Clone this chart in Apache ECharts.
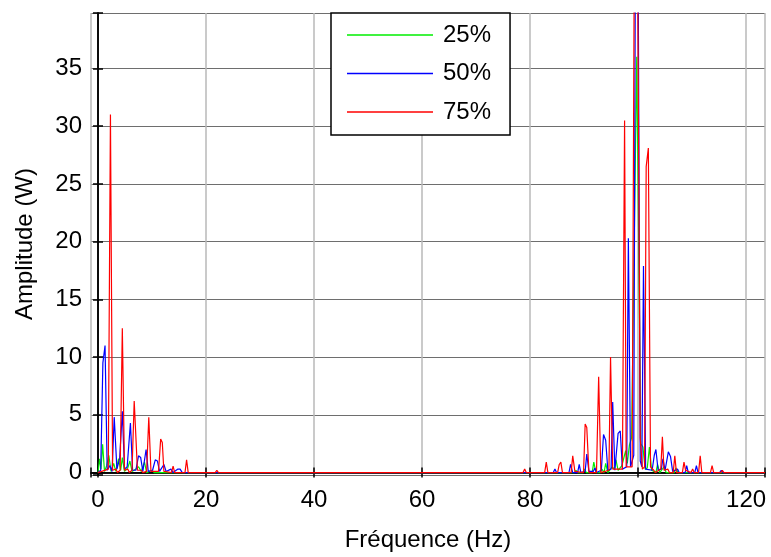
<!DOCTYPE html>
<html>
<head>
<meta charset="utf-8">
<script src="https://cdn.jsdelivr.net/npm/echarts@6/dist/echarts.min.js"></script>
<style>
html,body{margin:0;padding:0;background:#fff;}
#chart{width:771px;height:557px;}
</style>
</head>
<body>
<div id="chart"></div>
<script>
// Legend names
var seriesNames = ['25%', '50%', '75%'];
// x tick labels (Hz) and y tick labels (W)
var xTicks = [0, 20, 40, 60, 80, 100, 120];
var yTicks = [0, 5, 10, 15, 20, 25, 30, 35];

// [frequency (Hz), amplitude (W)]
var s25 = [[0,0],[0.3,1.2],[0.55,0.3],[0.85,2.45],[1.2,0.1],[1.6,0.6],[2.0,1.5],[2.4,0.1],[2.9,0.8],[3.3,0.1],[3.8,1.2],[4.2,0.2],[4.5,1.3],[4.9,0.1],[5.5,0.4],[5.9,1.0],[6.3,0.1],[7.0,0.3],[7.5,0.5],[8.0,0.1],[8.6,0.9],[9.0,0],[10.0,0.2],[10.4,0],
[88.2,0],[88.5,0.2],[88.8,0],[89.8,0],[90.1,0.3],[90.4,0],[91.5,0],[91.8,0.9],[92.2,0],[93.0,0],[93.3,0.3],[93.7,0],[94.0,0.8],[94.4,0],[95.2,0.5],[95.6,0.3],[95.9,1.1],[96.3,0.2],[97.0,0.6],[97.7,1.9],[98.0,0.8],[98.4,2.4],[98.8,3.0],[99.75,36],[100.5,2.5],[100.9,2.2],[101.3,0.3],[101.7,0.4],[102.1,2.2],[102.5,0.2],[103.3,0],[103.6,0.7],[104.0,0],[104.8,0.5],[105.2,0],[106.7,0],[107.0,0.4],[107.4,0],[123.5,0]];

var s50 = [[0,0],[0.5,0.2],[0.9,9.5],[1.3,11.0],[1.7,0.2],[2.2,0.6],[2.6,0.1],[3.0,4.8],[3.5,0.3],[4.0,1.2],[4.5,5.3],[4.9,0.3],[5.4,0.5],[6.0,4.3],[6.4,0.2],[7.0,0.2],[7.5,1.45],[7.9,1.3],[8.3,0.1],[8.9,2.0],[9.3,0.1],[10.1,0.2],[10.6,1.1],[11.0,1.0],[11.4,0.1],[12.2,0.7],[12.6,0.1],[13.5,0.3],[13.9,0],[14.8,0.3],[15.2,0.3],[15.6,0],
[84.3,0],[84.6,0.3],[84.9,0],[87.2,0],[87.5,0.7],[87.9,0],[88.8,0],[89.1,0.7],[89.4,0],[90.2,0.1],[90.5,1.6],[90.9,0.1],[91.7,0.1],[92.0,0.4],[92.3,0],[93.2,0.2],[93.6,3.3],[94.0,2.8],[94.4,0.2],[95.0,0.3],[95.3,6.1],[95.7,0.2],[96.3,3.4],[96.7,3.6],[97.1,0.3],[97.9,0.5],[98.2,20.3],[98.6,0.5],[99.2,1.5],[99.5,45],[100.0,45],[100.4,1.0],[100.7,0.5],[101.0,17.9],[101.4,0.3],[102.6,0.2],[103.0,1.5],[103.3,2.0],[103.7,0.2],[104.3,0.3],[104.6,1.2],[105.0,0.2],[105.6,1.8],[106.0,1.4],[106.4,0.1],[107.3,0.3],[107.6,0],[108.7,0],[109.0,0.6],[109.3,0],[110.5,0],[110.8,0.6],[111.1,0],[115.1,0],[115.4,0.2],[115.7,0],[123.5,0]];

var s75 = [[0,0],[1.9,0.3],[2.3,31.0],[2.7,0.2],[3.3,0.3],[3.6,0],[4.1,0.2],[4.5,12.5],[4.9,0.2],[5.5,0.3],[5.8,0],[6.3,0.2],[6.7,6.2],[7.0,6.3],[7.3,0.2],[8.0,0.2],[8.3,0],[9.0,0.1],[9.4,4.8],[9.8,0.1],[11.2,0.1],[11.6,2.9],[11.9,2.6],[12.2,0.1],[13.6,0],[13.9,0.55],[14.2,0],[16.1,0],[16.4,1.1],[16.7,0],[21.7,0],[22.0,0.2],[22.3,0],
[78.7,0],[79.0,0.3],[79.3,0],[82.7,0],[83.0,0.9],[83.3,0],[85.1,0],[85.4,0.7],[85.7,0.9],[86.0,0],[87.6,0],[87.9,1.45],[88.3,0.1],[89.9,0],[90.2,4.2],[90.5,3.9],[90.9,0],[92.3,0],[92.7,8.3],[93.1,0],[94.6,0.2],[94.9,10.0],[95.3,0.3],[97.1,0.3],[97.5,30.5],[97.8,0.5],[98.9,0.5],[99.3,45],[99.9,45],[100.4,3.0],[100.8,0.3],[101.2,0.5],[101.5,26.5],[101.9,28.1],[102.3,0.5],[102.9,0.2],[103.2,0],[104.2,0.3],[104.5,3.1],[104.8,0.2],[105.5,0.3],[105.8,0],[106.5,0],[106.8,1.45],[107.1,0],[108.2,0],[108.5,0.9],[108.8,0.2],[109.8,0],[110.1,0.3],[110.4,0],[111.2,0],[111.5,1.45],[111.8,0],[113.4,0],[113.7,0.6],[114.0,0],[115.3,0],[115.6,0.2],[115.9,0],[123.5,0]];

var colors = ['#00ee00', '#0000ff', '#ff0000'];
var FONT = 'Liberation Sans, Arial, sans-serif';

var xMin = -1.3, xMax = 123.5, yMin = -0.21, yMax = 39.8;

function isTick(v, list) {
  for (var i = 0; i < list.length; i++) if (Math.abs(v - list[i]) < 1e-6) return true;
  return false;
}

var chart = echarts.init(document.getElementById('chart'), null, {renderer: 'canvas'});
var axisLineStyle = {color: '#000', width: 1.5};
var option = {
  animation: false,
  backgroundColor: '#fff',
  color: colors,
  textStyle: {fontFamily: FONT},
  grid: {left: 91, right: 6, top: 13, bottom: 68, containLabel: false},
  legend: {
    data: seriesNames.map(function (n, i) {
      return {name: n, itemStyle: {color: colors[i], borderWidth: 0}};
    }),
    orient: 'vertical',
    left: 331, top: 13,
    padding: [8, 19, 9, 16],
    itemGap: 10.5,
    itemWidth: 86, itemHeight: 1.5,
    icon: 'rect',
    backgroundColor: '#fff',
    borderColor: '#000', borderWidth: 1.5,
    selectedMode: false,
    textStyle: {fontSize: 24, color: '#000', fontFamily: FONT, lineHeight: 28, padding: [0, 0, 0, 5]}
  },
  xAxis: [{
    type: 'value', min: xMin, max: xMax, splitNumber: 6,
    name: 'Fréquence (Hz)', nameLocation: 'middle', nameGap: 53,
    nameTextStyle: {fontSize: 24, color: '#000', fontFamily: FONT},
    axisLine: {show: true, lineStyle: axisLineStyle},
    axisTick: {show: true, inside: true, length: 5, lineStyle: {color: '#000', width: 1.5}},
    axisLabel: {fontSize: 24, color: '#000', margin: 13, fontFamily: FONT,
      formatter: function (v) { return isTick(v, xTicks) ? String(Math.round(v)) : ''; }},
    splitLine: {show: true, lineStyle: {color: '#b8b8b8', width: 1.5}}
  }, {
    type: 'value', position: 'top', min: xMin, max: xMax, splitNumber: 6,
    axisLine: {show: true, lineStyle: axisLineStyle},
    axisTick: {show: true, inside: true, length: 5, lineStyle: {color: '#000', width: 1.5}},
    axisLabel: {show: false}, splitLine: {show: false}
  }],
  yAxis: [{
    type: 'value', min: yMin, max: yMax, splitNumber: 8,
    name: 'Amplitude (W)', nameLocation: 'middle', nameGap: 54, nameRotate: 90,
    nameTextStyle: {fontSize: 24, color: '#000', fontFamily: FONT},
    axisLine: {show: true, lineStyle: axisLineStyle},
    axisTick: {show: true, inside: true, length: 5, lineStyle: {color: '#000', width: 1.5}},
    axisLabel: {fontSize: 24, color: '#000', margin: 9, fontFamily: FONT,
      formatter: function (v) { return isTick(v, yTicks) ? String(Math.round(v)) : ''; }},
    splitLine: {show: true, lineStyle: {color: '#6e6e6e', width: 1}}
  }, {
    type: 'value', position: 'right', min: yMin, max: yMax, splitNumber: 8,
    axisLine: {show: true, lineStyle: axisLineStyle},
    axisTick: {show: true, inside: true, length: 5, lineStyle: {color: '#000', width: 1.5}},
    axisLabel: {show: false}, splitLine: {show: false}
  }],
  series: [s25, s50, s75].map(function (d, i) {
    return {
      name: seriesNames[i], type: 'line', data: d,
      xAxisIndex: 0, yAxisIndex: 0,
      showSymbol: false, symbol: 'none', clip: true,
      color: colors[i],
      itemStyle: {color: colors[i]},
      lineStyle: {color: colors[i], width: 1.2},
      z: 3 + i
    };
  })
};
chart.setOption(option);
</script>
</body>
</html>
